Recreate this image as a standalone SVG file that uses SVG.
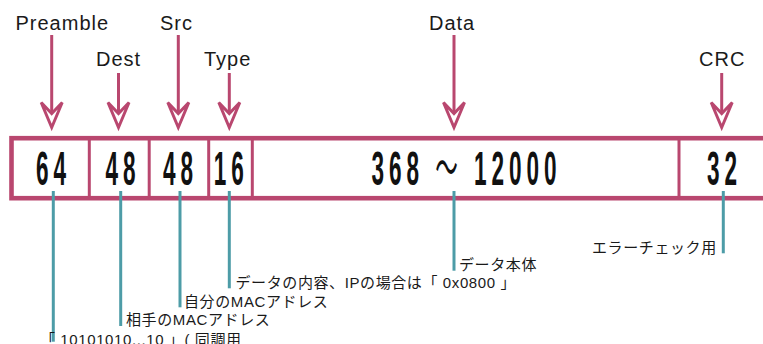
<svg xmlns="http://www.w3.org/2000/svg" width="763" height="344" viewBox="0 0 763 344">
<defs>
<style>
.lbl{font-family:"Liberation Sans",Arial,sans-serif;font-size:20px;letter-spacing:1px;fill:#1a1a1a}
.num{font-family:"Liberation Sans",Arial,"Noto Sans CJK JP",sans-serif;font-weight:bold;font-size:48px;letter-spacing:10.5px;fill:#111;text-anchor:middle}
.jp{font-family:"Liberation Sans",Arial,"Noto Sans CJK JP",sans-serif;font-size:15px;letter-spacing:0.6px;fill:#1a1a1a}
.arr{stroke:#b9476f;stroke-width:3;fill:none}
.tl{stroke:#4d9ca7;stroke-width:3;fill:none}
.div{stroke:#b9476f;stroke-width:3}
</style>
<marker id="ah" markerUnits="userSpaceOnUse" markerWidth="40" markerHeight="40" viewBox="-5 -20 40 40" refX="11" refY="0" orient="auto" overflow="visible">
<path d="M0,-10.5 L25,0 L0,10.5 L11,0 Z" fill="#fff" stroke="#b9476f" stroke-width="3" stroke-linejoin="miter"/>
</marker>
</defs>
<rect width="763" height="344" fill="#fff"/>

<g id="labels">
<text class="lbl" x="15.5" y="30">Preamble</text>
<text class="lbl" x="96" y="66">Dest</text>
<text class="lbl" x="160" y="30">Src</text>
<text class="lbl" x="204" y="66">Type</text>
<text class="lbl" x="429" y="30">Data</text>
<text class="lbl" x="699" y="66">CRC</text>
</g>

<g id="arrows">
<line class="arr" x1="51.7" y1="35" x2="51.7" y2="113.5" marker-end="url(#ah)"/>
<line class="arr" x1="118.5" y1="73" x2="118.5" y2="113.5" marker-end="url(#ah)"/>
<line class="arr" x1="178.3" y1="35" x2="178.3" y2="113.5" marker-end="url(#ah)"/>
<line class="arr" x1="229.3" y1="73" x2="229.3" y2="113.5" marker-end="url(#ah)"/>
<line class="arr" x1="454" y1="35" x2="454" y2="113.5" marker-end="url(#ah)"/>
<line class="arr" x1="721.7" y1="73" x2="721.7" y2="113.5" marker-end="url(#ah)"/>
</g>

<g id="frame">
<rect x="11.5" y="138.2" width="770" height="60" fill="#fff" stroke="#b9476f" stroke-width="4.6"/>
<line class="div" x1="89.3" y1="138" x2="89.3" y2="198"/>
<line class="div" x1="149.2" y1="138" x2="149.2" y2="198"/>
<line class="div" x1="208.7" y1="138" x2="208.7" y2="198"/>
<line class="div" x1="252.3" y1="138" x2="252.3" y2="198"/>
<line class="div" x1="679" y1="138" x2="679" y2="198"/>
</g>

<g id="fields">
<text class="num" transform="translate(53.6 185) scale(0.47 1)">64</text>
<text class="num" transform="translate(123 185) scale(0.47 1)">48</text>
<text class="num" transform="translate(180.5 185) scale(0.47 1)">48</text>
<text class="num" transform="translate(231.3 185) scale(0.47 1)">16</text>
<text class="num" transform="translate(466.5 185) scale(0.47 1)">368 <tspan font-weight="normal">〜</tspan> 12000</text>
<text class="num" transform="translate(724.5 185) scale(0.47 1)">32</text>
</g>

<g id="connectors">
<line class="tl" x1="53.3" y1="191" x2="53.3" y2="341.7"/>
<line class="tl" x1="120.7" y1="191" x2="120.7" y2="326"/>
<line class="tl" x1="180" y1="191" x2="180" y2="307.3"/>
<line class="tl" x1="229.3" y1="191" x2="229.3" y2="288.3"/>
<line class="tl" x1="454" y1="191" x2="454" y2="270.7"/>
<line class="tl" x1="723.3" y1="191" x2="723.3" y2="253.3"/>
</g>

<g id="notes">
<text class="jp" x="40" y="344.5">「 10101010...10 」( 同調用</text>
<text class="jp" x="126" y="325">相手のMACアドレス</text>
<text class="jp" x="184" y="306.5">自分のMACアドレス</text>
<text class="jp" x="235.5" y="287.5">データの内容、IPの場合は「 0x0800 」</text>
<text class="jp" x="459" y="270">データ本体</text>
<text class="jp" x="592" y="252.5">エラーチェック用</text>
</g>
</svg>
